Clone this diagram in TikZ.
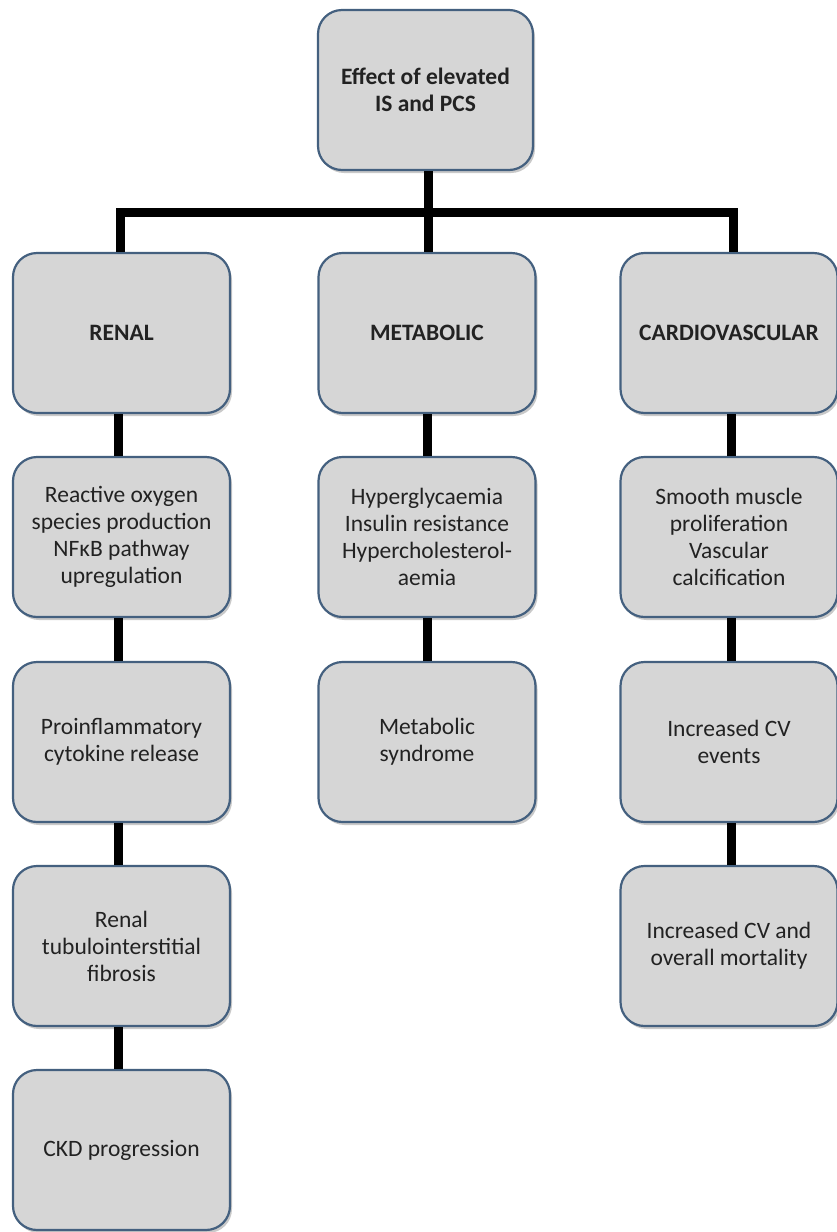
\documentclass[tikz,border=0pt]{standalone}
\usepackage{fontspec}
\setmainfont{Carlito}
\usetikzlibrary{shadows}
\definecolor{boxfill}{HTML}{D6D6D6}
\definecolor{boxline}{HTML}{44607F}
\definecolor{txt}{HTML}{222222}
\begin{document}
\begin{tikzpicture}[x=1pt,y=-1pt,
  box/.style={draw=boxline, line width=2.2pt, fill=boxfill, rounded corners=24pt,
    minimum width=217pt, minimum height=160pt, align=center, text=txt,
    font=\fontsize{23.5}{27}\selectfont,
    drop shadow={shadow xshift=2pt, shadow yshift=-3pt, opacity=0.35, fill=black!60}},
  conn/.style={line width=9pt, draw=black}]
\fill[white] (0,0) rectangle (837,1232);
\useasboundingbox (0,0) rectangle (837,1232);
\coordinate (junc) at (428,212);
\node[box, minimum width=215pt] (top) at (425.5,90) {\textbf{Effect of elevated}\\\textbf{IS and PCS}};
\node[box] (ren) at (121.5,333) {\textbf{RENAL}};
\node[box] (met) at (427,333) {\textbf{METABOLIC}};
\node[box] (car) at (729,333) {\textbf{CARDIOVASCULAR}};
\node[box] (ren2) at (121.5,537) {Reactive oxygen\\species production\\NFκB pathway\\upregulation};
\node[box] (met2) at (427,537) {Hyperglycaemia\\Insulin resistance\\Hypercholesterol-\\aemia};
\node[box] (car2) at (729,537) {Smooth muscle\\proliferation\\Vascular\\calcification};
\node[box] (ren3) at (121.5,742) {Proinflammatory\\cytokine release};
\node[box] (met3) at (427,742) {Metabolic\\syndrome};
\node[box] (car3) at (729,742) {Increased CV\\events};
\node[box] (ren4) at (121.5,946) {Renal\\tubulointerstitial\\fibrosis};
\node[box] (car4) at (729,946) {Increased CV and\\overall mortality};
\node[box] (ren5) at (121.5,1150) {CKD progression};
\draw[conn] (top.south -| junc) -- (junc);
\draw[conn] (junc) -- (met.north -| junc);
\draw[conn] (ren.north -| 120,0) |- (junc) -| (car.north -| 733,0);
\draw[conn] (ren.south -| 118,0) -- (ren2.north -| 118,0);
\draw[conn] (ren2.south -| 118,0) -- (ren3.north -| 118,0);
\draw[conn] (ren3.south -| 118,0) -- (ren4.north -| 118,0);
\draw[conn] (ren4.south -| 118,0) -- (ren5.north -| 118,0);
\draw[conn] (met.south -| 427,0) -- (met2.north -| 427,0);
\draw[conn] (met2.south -| 427,0) -- (met3.north -| 427,0);
\draw[conn] (car.south -| 731,0) -- (car2.north -| 731,0);
\draw[conn] (car2.south -| 731,0) -- (car3.north -| 731,0);
\draw[conn] (car3.south -| 731,0) -- (car4.north -| 731,0);
\end{tikzpicture}
\end{document}
